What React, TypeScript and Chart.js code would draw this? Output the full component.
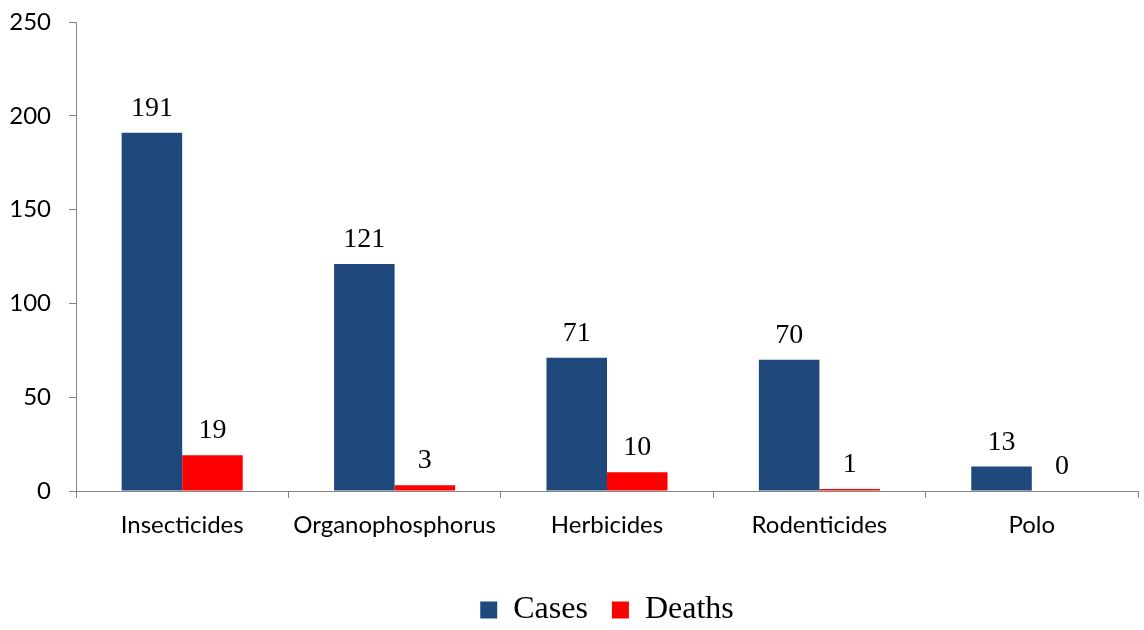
import React, { useEffect, useRef } from "react";
import { Chart, registerables } from "chart.js";

Chart.register(...registerables);

const categories = ["Insecticides", "Organophosphorus", "Herbicides", "Rodenticides", "Polo"];
const cases = [191, 121, 71, 70, 13];
const deaths = [19, 3, 10, 1, 0];
const yTicks = [0, 50, 100, 150, 200, 250];

const AXIS = "#868686";

const labelPlugin = {
  id: "valueLabels",
  afterDatasetsDraw(chart: any) {
    const ctx = chart.ctx;
    ctx.save();
    ctx.font = '28px "Liberation Serif"';
    ctx.fillStyle = "#000";
    ctx.textAlign = "center";
    ctx.textBaseline = "alphabetic";
    chart.data.datasets.forEach((ds: any, di: number) => {
      const meta = chart.getDatasetMeta(di);
      meta.data.forEach((el: any, i: number) => {
        ctx.fillText(String(ds.data[i]), el.x, el.y - 17);
      });
    });
    ctx.restore();
  },
};

export default function App() {
  const ref = useRef<HTMLCanvasElement | null>(null);
  useEffect(() => {
    if (!ref.current) return;
    const chart = new Chart(ref.current, {
      type: "bar",
      data: {
        labels: categories,
        datasets: [
          { label: "Cases", data: cases, backgroundColor: "#1F497D", categoryPercentage: 0.57, barPercentage: 1 },
          { label: "Deaths", data: deaths, backgroundColor: "#FF0000", categoryPercentage: 0.57, barPercentage: 1 },
        ],
      },
      options: {
        responsive: false,
        animation: false,
        layout: { padding: { left: 0, right: 6, top: 22, bottom: -6 } },
        plugins: {
          tooltip: { enabled: false },
          legend: {
            position: "bottom",
            fullSize: false,
            labels: {
              font: { family: '"Liberation Serif"', size: 32 },
              color: "#000",
              boxWidth: 17,
              boxHeight: 17,
              padding: 24,
            },
          },
        },
        scales: {
          x: {
            grid: { display: true, drawOnChartArea: false, drawTicks: true, tickLength: 7, color: AXIS, offset: true },
            border: { display: true, color: AXIS, width: 1 },
            ticks: { font: { family: "Lato", size: 24 }, color: "#000", padding: 13, maxRotation: 0 },
            afterFit(scale: any) {
              scale.height = 79;
            },
          },
          y: {
            min: 0,
            max: 250,
            afterBuildTicks(scale: any) {
              scale.ticks = yTicks.map((v) => ({ value: v }));
            },
            grid: { display: true, drawOnChartArea: false, drawTicks: true, tickLength: 7, color: AXIS },
            border: { display: true, color: AXIS, width: 1 },
            ticks: { font: { family: "Lato", size: 24 }, color: "#000", padding: 18 },
            afterFit(scale: any) {
              scale.width = 76;
              scale.paddingTop = 0;
              scale.paddingBottom = 0;
            },
          },
        },
      },
      plugins: [labelPlugin],
    });
    return () => chart.destroy();
  }, []);
  return (
    <div style={{ position: "absolute", left: 0, top: 0, width: 1144, height: 630, background: "#fff" }}>
      <canvas ref={ref} width={1144} height={630} />
    </div>
  );
}
